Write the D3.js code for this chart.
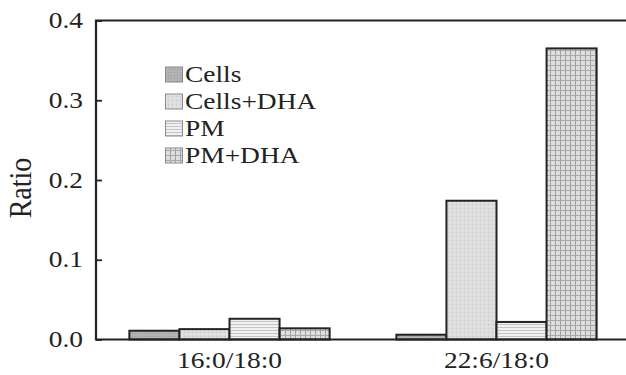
<!DOCTYPE html>
<html><head><meta charset="utf-8">
<script src="https://cdn.jsdelivr.net/npm/d3@7"></script>
<style>body{margin:0;background:#fff}svg{display:block}text{font-family:"Liberation Serif","Times New Roman",serif;fill:#222}</style>
</head><body><svg id="c" width="626" height="375"></svg>
<script>
const groups = ["16:0/18:0", "22:6/18:0"];
const seriesNames = ["Cells", "Cells+DHA", "PM", "PM+DHA"];
const cells = [0.011, 0.006];
const cellsDHA = [0.013, 0.174];
const pm = [0.026, 0.022];
const pmDHA = [0.014, 0.365];
const yTicks = [0.0, 0.1, 0.2, 0.3, 0.4];
const values = [cells, cellsDHA, pm, pmDHA];

const svg = d3.select("#c");
const W = 626, H = 375;
const mLeft = 96, mTop = 20.5, mBottom = 339.5;
const SX = 1.22;

const defs = svg.append("defs");
function pat(id, w, h, bg, draw) {
  const p = defs.append("pattern").attr("id", id).attr("patternUnits", "userSpaceOnUse").attr("width", w).attr("height", h);
  p.append("rect").attr("width", w).attr("height", h).attr("fill", bg);
  draw(p);
}
pat("p0", 3, 3, "#b3b3b3", p => {
  p.append("rect").attr("x", 0).attr("y", 0).attr("width", 1).attr("height", 1).attr("fill", "#9a9a9a");
});
pat("p1", 4, 4, "#dddddd", p => {
  p.append("rect").attr("x", 0).attr("y", 0).attr("width", 1).attr("height", 1).attr("fill", "#c4c4c4");
  p.append("rect").attr("x", 2).attr("y", 2).attr("width", 1).attr("height", 1).attr("fill", "#efefef");
});
pat("p2", 4, 3, "#f0f0f0", p => {
  p.append("rect").attr("x", 0).attr("y", 0).attr("width", 4).attr("height", 1).attr("fill", "#c4c4c4");
});
pat("p3", 5, 5, "#dedede", p => {
  p.append("rect").attr("x", 0).attr("y", 0).attr("width", 1).attr("height", 5).attr("fill", "#a0a0a0");
  p.append("rect").attr("x", 0).attr("y", 0).attr("width", 5).attr("height", 1).attr("fill", "#a8a8a8");
});
const fills = ["url(#p0)", "url(#p1)", "url(#p2)", "url(#p3)"];

const x = d3.scaleBand().domain(groups).range([mLeft, 630]).paddingInner(0.25).paddingOuter(0.125);
const xs = d3.scaleBand().domain(seriesNames).range([0, x.bandwidth()]).padding(0);
const y = d3.scaleLinear().domain([0, 0.4]).range([mBottom, mTop]);

// bars
groups.forEach((g, gi) => {
  seriesNames.forEach((s, si) => {
    const v = values[si][gi];
    svg.append("rect")
      .attr("x", x(g) + xs(s)).attr("y", y(v))
      .attr("width", xs.bandwidth()).attr("height", y(0) - y(v))
      .attr("fill", fills[si]).attr("stroke", "#222").attr("stroke-width", 2);
  });
});

// frame
svg.append("path").attr("d", `M${W + 5},${mTop}H${mLeft}V${mBottom}H${W + 5}`)
  .attr("fill", "none").attr("stroke", "#222").attr("stroke-width", 2.2);

// y axis
const yAxis = svg.append("g").attr("transform", `translate(${mLeft},0)`)
  .call(d3.axisRight(y).tickValues(yTicks).tickSize(6).tickFormat(d3.format(".1f")));
yAxis.select(".domain").remove();
yAxis.selectAll("line").attr("stroke", "#222").attr("stroke-width", 1.8);
yAxis.selectAll("text").remove();
yTicks.forEach(t => {
  svg.append("text").attr("transform", `translate(83,${y(t) + 7.5}) scale(${SX},1)`)
    .attr("text-anchor", "end").attr("font-size", 22.5).text(d3.format(".1f")(t));
});

// x labels
groups.forEach(g => {
  svg.append("text").attr("transform", `translate(${x(g) + x.bandwidth() / 2},368) scale(${SX},1)`)
    .attr("text-anchor", "middle").attr("font-size", 22.5).text(g);
});

// y title
svg.append("text").attr("transform", `translate(31,188) scale(1.15,1) rotate(-90)`)
  .attr("text-anchor", "middle").attr("font-size", 28).text("Ratio");

// legend
seriesNames.forEach((s, i) => {
  const ly = 67 + i * 27;
  svg.append("rect").attr("x", 165.5).attr("y", ly).attr("width", 17).attr("height", 15)
    .attr("fill", fills[i]).attr("stroke", "#8a8a8a").attr("stroke-width", 1);
  svg.append("text").attr("transform", `translate(185,${ly + 15}) scale(${SX},1)`)
    .attr("font-size", 22.5).text(s);
});
</script></body></html>
